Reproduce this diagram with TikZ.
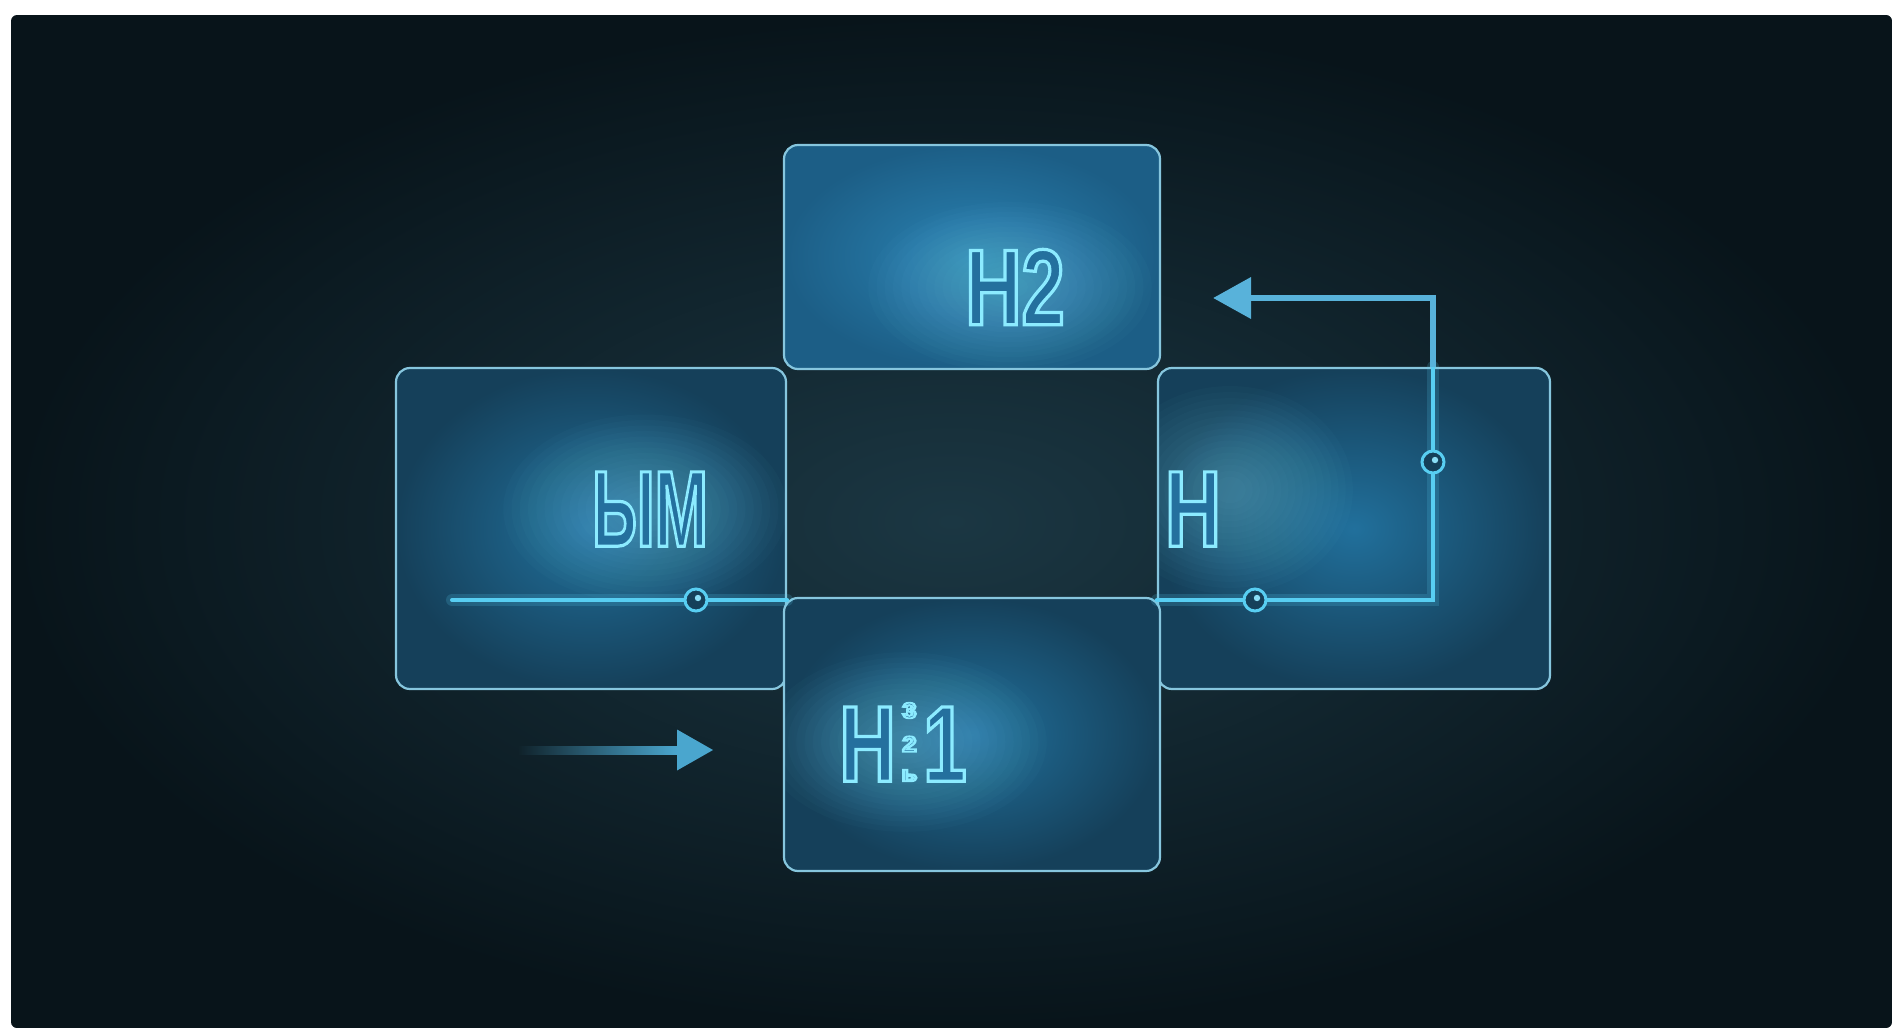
\documentclass[tikz,border=0pt]{standalone}
\usepackage{fontspec}
\usetikzlibrary{arrows.meta}
\newfontfamily\neonfont[FakeStretch=0.72]{Liberation Sans}

\definecolor{bgin}{HTML}{1B3743}
\definecolor{bgout}{HTML}{08141A}
\definecolor{boxin}{HTML}{21709C}
\definecolor{boxout}{HTML}{15405A}
\definecolor{topin}{HTML}{2A82B2}
\definecolor{topout}{HTML}{1C5E86}
\definecolor{rim}{HTML}{86C6DE}
\definecolor{wirec}{HTML}{58CEF2}
\definecolor{wiredim}{HTML}{58B2DA}
\definecolor{arrowc}{HTML}{4AA6CE}
\definecolor{neonc}{HTML}{8CEBFF}

% outlined lettering: glyphs filled with panel blue and stroked in neon cyan
\newcommand\neontext[2][1.6]{%
  \special{pdf:literal direct 2 Tr #1 w 0.55 0.92 1 RG 0.14 0.44 0.62 rg}%
  #2%
  \special{pdf:literal direct 0 Tr}}

\tikzset{
  panel/.style={shade, draw=rim, line width=1.1pt, rounded corners=7pt,
    inner color=boxin, outer color=boxout, inner sep=0pt},
  toppanel/.style={panel, inner color=topin, outer color=topout},
  label/.style={inner sep=0pt, font=\neonfont\bfseries\fontsize{54}{60}\selectfont},
  wire/.style={draw=wirec, line width=2pt, line cap=round, line join=miter},
  wireglow/.style={draw=wirec, line width=6pt, opacity=0.18, line cap=round},
  joint/.style={circle, draw=wirec, line width=1.5pt, fill=boxout,
    minimum size=11pt, inner sep=0pt},
}

% soft halo behind a piece of lettering, kept inside its panel
\newcommand\halo[4]{%
  \begin{scope}
    \clip[rounded corners=7pt] (#1.south west) rectangle (#1.north east);
    \foreach \k in {1,...,16}
      \fill[neonc, opacity=0.022] (#2) ellipse ({#3*(1-0.055*\k)} and {#4*(1-0.055*\k)});
  \end{scope}}

\begin{document}
\begin{tikzpicture}[x=0.5pt, y=-0.5pt]
  % page and backdrop
  \fill[white] (0,0) rectangle (1892,1028);
  \useasboundingbox (0,0) rectangle (1892,1028);
  \shade[inner color=bgin, outer color=bgout, rounded corners=3pt]
    (11,1028) -- (11,15) -- (1892,15) -- (1892,1028) -- cycle;

  % panels
  \node[toppanel, minimum width=188pt, minimum height=112pt] (top) at (972,257) {};
  \node[panel, minimum width=195pt, minimum height=160.5pt] (left) at (591,528.5) {};
  \node[panel, minimum width=196pt, minimum height=160.5pt] (right) at (1354,528.5) {};
  \node[panel, minimum width=188pt, minimum height=136.5pt] (bottom) at (972,734.5) {};

  % glow around the lettering
  \halo{top}{1010,287}{150}{90}
  \halo{right}{1230,490}{130}{110}
  \halo{left}{645,509}{150}{100}
  \halo{bottom}{905,742}{150}{95}

  % lettering
  \node[label] (ttop) at (1015,287) {\neontext{H2}};
  \node[label] (tright) at (1193,509) {\neontext{H}};
  \node[label] (tleft) at (650,509) {\scalebox{0.82}[1]{\neontext{ЫМ}}};
  \node[label] (tbottom) at (903,742) {\neontext{H}\hspace{3pt}\scalebox{1.6}[1]{\fontsize{11}{12}\selectfont\shortstack{\neontext[0.9]{3}\\[6pt]\neontext[0.9]{2}\\[6pt]\neontext[0.9]{ь}}}\hspace{3pt}\neontext{1}};

  % wiring
  \coordinate (lstart) at (452,600);
  \coordinate (bend) at (1433,600);
  \coordinate (rise) at (1433,298);
  \coordinate (tip) at (1213,298);
  \coordinate (lend) at (left.east |- lstart);
  \coordinate (rbeg) at (right.west |- lstart);
  \coordinate (rtop) at (right.north -| bend);

  \draw[wireglow] (lstart) -- (lend);
  \draw[wireglow] (rbeg) -- (bend) -- (rtop);
  \draw[wire] (lstart) -- (lend);
  \draw[wire] (rbeg) -- (bend) -- (rtop);
  \draw[draw=wiredim, line width=3.4pt, -{Triangle[length=19pt,width=20pt]}]
    (rtop) -- (rise) -- (tip);

  \node[joint] (j1) at (696,600) {};
  \node[joint] (j2) at (1255,600) {};
  \node[joint] (j3) at (1433,462) {};
  \foreach \j in {j1,j2,j3}
    \fill[wirec!70!white] ([shift={(1pt,1pt)}]\j.center) circle (1.6pt);

  % incoming arrow with a faded tail
  \coordinate (astart) at (519,750);
  \coordinate (atip) at (713,750);
  \coordinate (abase) at (677,750);
  \shade[left color=bgout!60!bgin, right color=arrowc]
    ([yshift=-2pt]astart) rectangle ([yshift=2pt]abase);
  \fill[arrowc] (atip) -- ([yshift=10.25pt]abase) -- ([yshift=-10.25pt]abase) -- cycle;
\end{tikzpicture}
\end{document}
